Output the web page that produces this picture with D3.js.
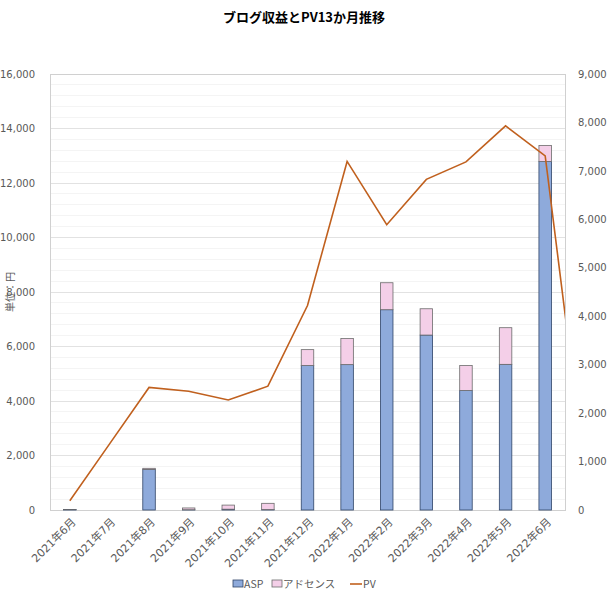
<!DOCTYPE html>
<html><head><meta charset="utf-8">
<script src="https://cdn.jsdelivr.net/npm/d3@7"></script>
<style>
body{margin:0;background:#fff;}
svg{font-family:"DejaVu Sans","Noto Sans CJK JP",sans-serif;}
</style></head>
<body>
<svg id="chart" width="608" height="600"></svg>
<script>
const categories = ["2021年6月","2021年7月","2021年8月","2021年9月","2021年10月","2021年11月","2021年12月","2022年1月","2022年2月","2022年3月","2022年4月","2022年5月","2022年6月"];
const asp     = [15, 0, 1490, 10, 30, 15, 5300, 5335, 7350, 6420, 4385, 5345, 12790];
const adsense = [5, 0, 40, 65, 150, 230, 585, 955, 990, 965, 915, 1345, 590];
// PV has one extra trailing value (next month) that is clipped at the plot edge
const pv      = [190, 1360, 2530, 2450, 2270, 2555, 4220, 7195, 5890, 6825, 7185, 7930, 7310, 800];
const leftTicks  = [0,2000,4000,6000,8000,10000,12000,14000,16000];
const rightTicks = [0,1000,2000,3000,4000,5000,6000,7000,8000,9000];
const title = "ブログ収益とPV13か月推移";
const yTitle = "単位：円";
const seriesNames = ["ASP","アドセンス","PV"];

const svg = d3.select("#chart");
const m = {l:50, r:565, t:74, b:510};
const x = d3.scaleBand().domain(categories).range([m.l, m.r]).paddingInner(0).paddingOuter(0);
const yL = d3.scaleLinear().domain([0,16000]).range([m.b, m.t]);
const yR = d3.scaleLinear().domain([0,9000]).range([m.b, m.t]);
const txtCol = "#595959";

// title
svg.append("text").attr("x",304).attr("y",22).attr("text-anchor","middle")
  .attr("font-size",13).attr("font-weight","bold").attr("fill","#000")
  .attr("font-family","'Noto Sans CJK JP',sans-serif").text(title);

// minor gridlines
const minor = d3.range(0,16001,400).filter(v=>v%2000!==0);
svg.append("g").selectAll("line").data(minor).join("line")
  .attr("x1",m.l).attr("x2",m.r).attr("y1",d=>yL(d)).attr("y2",d=>yL(d))
  .attr("stroke","#f4f4f4").attr("stroke-width",1).attr("shape-rendering","crispEdges");
// major gridlines
svg.append("g").selectAll("line").data(leftTicks.filter(v=>v>0)).join("line")
  .attr("x1",m.l).attr("x2",m.r).attr("y1",d=>yL(d)).attr("y2",d=>yL(d))
  .attr("stroke","#e2e2e2").attr("stroke-width",1).attr("shape-rendering","crispEdges");

// plot border
svg.append("rect").attr("x",m.l).attr("y",m.t).attr("width",m.r-m.l).attr("height",m.b-m.t)
  .attr("fill","none").attr("stroke","#d0d0d0").attr("shape-rendering","crispEdges");

// stacked bars
const bw = 12.5;
const stackData = categories.map((c,i)=>({cat:c, asp:asp[i], adsense:adsense[i]}));
const stacked = d3.stack().keys(["asp","adsense"])(stackData);
const fills = {asp:"#8eaadb", adsense:"#f4cfe8"};
const strokes = {asp:"#2f4468", adsense:"#6b6b6b"};
stacked.forEach(layer=>{
  svg.append("g").selectAll("rect").data(layer).join("rect")
    .attr("x",d=>x(d.data.cat)+x.bandwidth()/2-bw/2)
    .attr("width",bw)
    .attr("y",d=>yL(d[1]))
    .attr("height",d=>Math.max(0,yL(d[0])-yL(d[1])))
    .attr("fill",fills[layer.key])
    .attr("stroke",d=>(d[1]-d[0])>0?strokes[layer.key]:"none")
    .attr("stroke-width",0.8);
});

// PV line (clipped to plot area)
svg.append("clipPath").attr("id","clip").append("rect")
  .attr("x",m.l).attr("y",m.t).attr("width",m.r-m.l).attr("height",m.b-m.t);
const xPos = i => x(categories[0]) + x.bandwidth()/2 + i*x.step();
const line = d3.line().x((d,i)=>xPos(i)).y(d=>yR(d));
svg.append("path").datum(pv).attr("d",line).attr("fill","none")
  .attr("stroke","#c0601e").attr("stroke-width",1.6).attr("clip-path","url(#clip)");

// left axis
const axL = svg.append("g").attr("transform",`translate(${m.l-12},0)`)
  .call(d3.axisLeft(yL).tickValues(leftTicks).tickFormat(d3.format(",")).tickSize(0));
axL.select(".domain").remove();
axL.selectAll("text").attr("font-size",10).attr("fill",txtCol).attr("font-family","'DejaVu Sans',sans-serif");
// right axis
const axR = svg.append("g").attr("transform",`translate(${m.r+10},0)`)
  .call(d3.axisRight(yR).tickValues(rightTicks).tickFormat(d3.format(",")).tickSize(0));
axR.select(".domain").remove();
axR.selectAll("text").attr("font-size",10).attr("fill",txtCol).attr("font-family","'DejaVu Sans',sans-serif");

// x axis labels
svg.append("g").selectAll("text").data(categories).join("text")
  .attr("transform",d=>`translate(${x(d)+x.bandwidth()/2+4},${m.b+10}) rotate(-45)`)
  .attr("text-anchor","end").attr("dy","0.35em")
  .attr("font-size",11).attr("fill",txtCol)
  .attr("font-family","'DejaVu Sans','Noto Sans CJK JP',sans-serif")
  .text(d=>d);

// y axis title
svg.append("text").attr("transform",`translate(10,${(m.t+m.b)/2}) rotate(-90)`)
  .attr("text-anchor","middle").attr("dy","0.35em").attr("font-size",10).attr("fill",txtCol)
  .attr("font-family","'Noto Sans CJK JP',sans-serif").text(yTitle);

// legend
const lg = svg.append("g").attr("font-size",10.5).attr("fill",txtCol)
  .attr("font-family","'Noto Sans CJK JP',sans-serif");
const ly = 584;
lg.append("rect").attr("x",233).attr("y",ly-4).attr("width",10).attr("height",7)
  .attr("fill",fills.asp).attr("stroke",strokes.asp).attr("stroke-width",0.8);
lg.append("text").attr("x",244).attr("y",ly).attr("dy","0.35em").attr("fill",txtCol).text(seriesNames[0]);
lg.append("rect").attr("x",272).attr("y",ly-4).attr("width",10).attr("height",7)
  .attr("fill",fills.adsense).attr("stroke",strokes.adsense).attr("stroke-width",0.8);
lg.append("text").attr("x",283).attr("y",ly).attr("dy","0.35em").attr("fill",txtCol).text(seriesNames[1]);
lg.append("line").attr("x1",350).attr("x2",362).attr("y1",ly).attr("y2",ly)
  .attr("stroke","#c0601e").attr("stroke-width",1.6);
lg.append("text").attr("x",363).attr("y",ly).attr("dy","0.35em").attr("fill",txtCol).text(seriesNames[2]);
</script>
</body></html>
